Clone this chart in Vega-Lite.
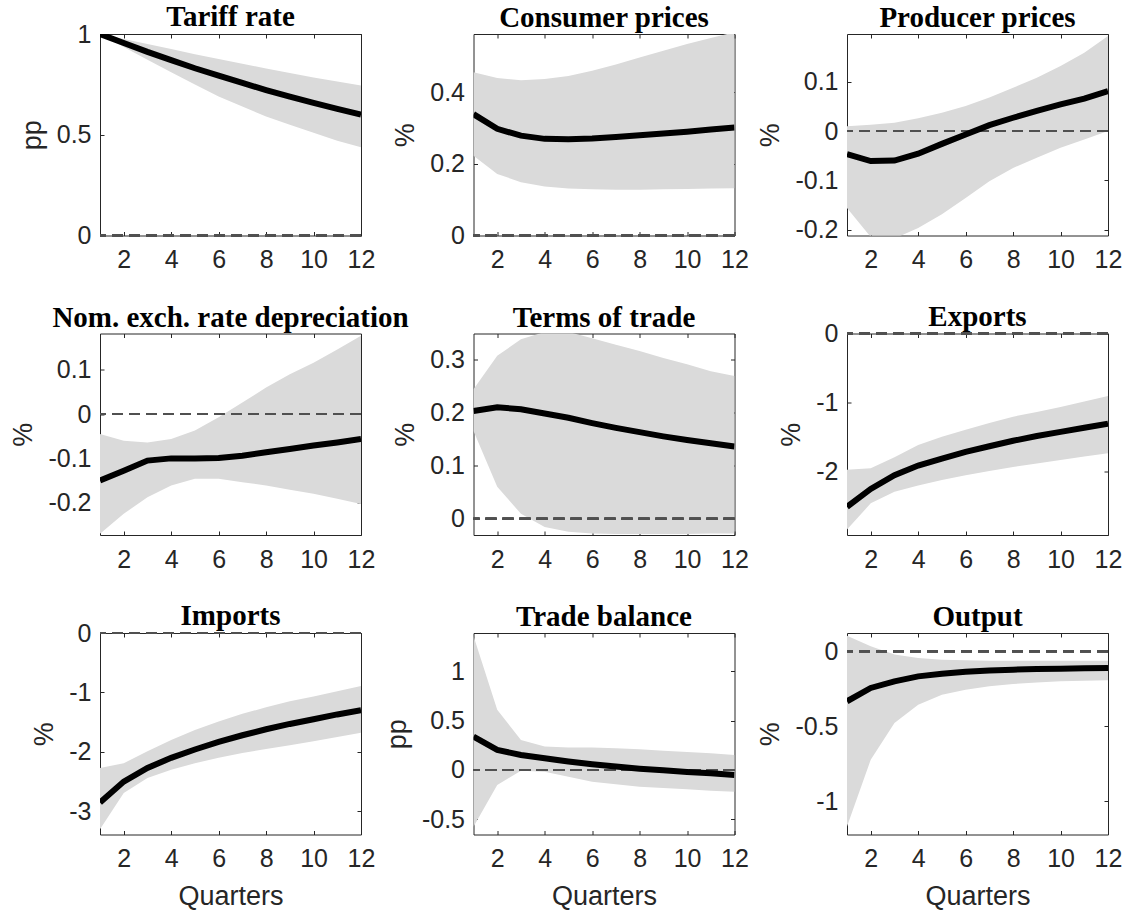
{
  "$schema": "https://vega.github.io/schema/vega-lite/v6.json",
  "background": "white",
  "padding": {"left": 9, "top": 2, "right": 0, "bottom": 0},
  "datasets": {
    "tariff": [
      {"q": 1, "mid": 1.0, "lo": 1.0, "hi": 1.0},
      {"q": 2, "mid": 0.955, "lo": 0.935, "hi": 0.975},
      {"q": 3, "mid": 0.911, "lo": 0.872, "hi": 0.95},
      {"q": 4, "mid": 0.87, "lo": 0.81, "hi": 0.925},
      {"q": 5, "mid": 0.83, "lo": 0.75, "hi": 0.9},
      {"q": 6, "mid": 0.793, "lo": 0.69, "hi": 0.876},
      {"q": 7, "mid": 0.757, "lo": 0.64, "hi": 0.852},
      {"q": 8, "mid": 0.722, "lo": 0.59, "hi": 0.829},
      {"q": 9, "mid": 0.689, "lo": 0.55, "hi": 0.806},
      {"q": 10, "mid": 0.658, "lo": 0.51, "hi": 0.784},
      {"q": 11, "mid": 0.628, "lo": 0.47, "hi": 0.764},
      {"q": 12, "mid": 0.6, "lo": 0.438, "hi": 0.745}
    ],
    "cpi": [
      {"q": 1, "mid": 0.339, "lo": 0.223, "hi": 0.456},
      {"q": 2, "mid": 0.298, "lo": 0.172, "hi": 0.44},
      {"q": 3, "mid": 0.279, "lo": 0.149, "hi": 0.434},
      {"q": 4, "mid": 0.27, "lo": 0.137, "hi": 0.437},
      {"q": 5, "mid": 0.269, "lo": 0.131, "hi": 0.446},
      {"q": 6, "mid": 0.271, "lo": 0.129, "hi": 0.46},
      {"q": 7, "mid": 0.275, "lo": 0.128, "hi": 0.478},
      {"q": 8, "mid": 0.28, "lo": 0.128, "hi": 0.497},
      {"q": 9, "mid": 0.285, "lo": 0.129, "hi": 0.516},
      {"q": 10, "mid": 0.29, "lo": 0.13, "hi": 0.535},
      {"q": 11, "mid": 0.296, "lo": 0.131, "hi": 0.552},
      {"q": 12, "mid": 0.302, "lo": 0.132, "hi": 0.568}
    ],
    "ppi": [
      {"q": 1, "mid": -0.047, "lo": -0.156, "hi": 0.01},
      {"q": 2, "mid": -0.061, "lo": -0.215, "hi": 0.013},
      {"q": 3, "mid": -0.06, "lo": -0.218, "hi": 0.017},
      {"q": 4, "mid": -0.046, "lo": -0.197, "hi": 0.026},
      {"q": 5, "mid": -0.026, "lo": -0.169, "hi": 0.037},
      {"q": 6, "mid": -0.007, "lo": -0.136, "hi": 0.051},
      {"q": 7, "mid": 0.012, "lo": -0.102, "hi": 0.068},
      {"q": 8, "mid": 0.027, "lo": -0.075, "hi": 0.088},
      {"q": 9, "mid": 0.041, "lo": -0.054, "hi": 0.108},
      {"q": 10, "mid": 0.054, "lo": -0.034, "hi": 0.132},
      {"q": 11, "mid": 0.066, "lo": -0.017, "hi": 0.159},
      {"q": 12, "mid": 0.081, "lo": 0.0, "hi": 0.193}
    ],
    "ner": [
      {"q": 1, "mid": -0.15, "lo": -0.27, "hi": -0.045},
      {"q": 2, "mid": -0.128, "lo": -0.225, "hi": -0.06},
      {"q": 3, "mid": -0.105, "lo": -0.188, "hi": -0.064},
      {"q": 4, "mid": -0.1, "lo": -0.161, "hi": -0.056},
      {"q": 5, "mid": -0.1, "lo": -0.146, "hi": -0.037},
      {"q": 6, "mid": -0.099, "lo": -0.146, "hi": -0.007},
      {"q": 7, "mid": -0.094, "lo": -0.154, "hi": 0.026},
      {"q": 8, "mid": -0.086, "lo": -0.161, "hi": 0.06},
      {"q": 9, "mid": -0.079, "lo": -0.171, "hi": 0.09},
      {"q": 10, "mid": -0.071, "lo": -0.18, "hi": 0.116},
      {"q": 11, "mid": -0.064, "lo": -0.191, "hi": 0.146},
      {"q": 12, "mid": -0.056, "lo": -0.203, "hi": 0.177}
    ],
    "tot": [
      {"q": 1, "mid": 0.203, "lo": 0.165, "hi": 0.244},
      {"q": 2, "mid": 0.21, "lo": 0.06, "hi": 0.307},
      {"q": 3, "mid": 0.206, "lo": 0.009, "hi": 0.338},
      {"q": 4, "mid": 0.198, "lo": -0.016, "hi": 0.352},
      {"q": 5, "mid": 0.19, "lo": -0.025, "hi": 0.352},
      {"q": 6, "mid": 0.18, "lo": -0.028, "hi": 0.34},
      {"q": 7, "mid": 0.171, "lo": -0.029, "hi": 0.328},
      {"q": 8, "mid": 0.163, "lo": -0.029, "hi": 0.316},
      {"q": 9, "mid": 0.155, "lo": -0.029, "hi": 0.303},
      {"q": 10, "mid": 0.148, "lo": -0.029, "hi": 0.291},
      {"q": 11, "mid": 0.142, "lo": -0.028, "hi": 0.278},
      {"q": 12, "mid": 0.136, "lo": -0.028, "hi": 0.269}
    ],
    "exp": [
      {"q": 1, "mid": -2.52, "lo": -2.85, "hi": -1.98},
      {"q": 2, "mid": -2.26, "lo": -2.47, "hi": -1.96},
      {"q": 3, "mid": -2.06, "lo": -2.3, "hi": -1.8},
      {"q": 4, "mid": -1.92, "lo": -2.21, "hi": -1.62},
      {"q": 5, "mid": -1.82, "lo": -2.13, "hi": -1.5},
      {"q": 6, "mid": -1.72, "lo": -2.06, "hi": -1.4},
      {"q": 7, "mid": -1.64, "lo": -2.0, "hi": -1.3},
      {"q": 8, "mid": -1.56, "lo": -1.94, "hi": -1.21},
      {"q": 9, "mid": -1.49, "lo": -1.89, "hi": -1.14},
      {"q": 10, "mid": -1.43, "lo": -1.84, "hi": -1.07},
      {"q": 11, "mid": -1.37, "lo": -1.79, "hi": -0.99},
      {"q": 12, "mid": -1.31, "lo": -1.74, "hi": -0.91}
    ],
    "imp": [
      {"q": 1, "mid": -2.85, "lo": -3.3, "hi": -2.27},
      {"q": 2, "mid": -2.5, "lo": -2.69, "hi": -2.19},
      {"q": 3, "mid": -2.27, "lo": -2.44, "hi": -1.99},
      {"q": 4, "mid": -2.1, "lo": -2.3, "hi": -1.8},
      {"q": 5, "mid": -1.96, "lo": -2.19, "hi": -1.63},
      {"q": 6, "mid": -1.83, "lo": -2.1, "hi": -1.49},
      {"q": 7, "mid": -1.72, "lo": -2.02, "hi": -1.36},
      {"q": 8, "mid": -1.62, "lo": -1.95, "hi": -1.25},
      {"q": 9, "mid": -1.53, "lo": -1.89, "hi": -1.15},
      {"q": 10, "mid": -1.45, "lo": -1.82, "hi": -1.07},
      {"q": 11, "mid": -1.37, "lo": -1.75, "hi": -0.98},
      {"q": 12, "mid": -1.3, "lo": -1.68, "hi": -0.89}
    ],
    "tb": [
      {"q": 1, "mid": 0.338, "lo": -0.576, "hi": 1.36},
      {"q": 2, "mid": 0.203, "lo": -0.152, "hi": 0.61},
      {"q": 3, "mid": 0.152, "lo": -0.007, "hi": 0.305},
      {"q": 4, "mid": 0.118, "lo": -0.017, "hi": 0.237},
      {"q": 5, "mid": 0.085, "lo": -0.068, "hi": 0.227},
      {"q": 6, "mid": 0.057, "lo": -0.119, "hi": 0.227},
      {"q": 7, "mid": 0.034, "lo": -0.146, "hi": 0.22},
      {"q": 8, "mid": 0.013, "lo": -0.17, "hi": 0.21},
      {"q": 9, "mid": -0.004, "lo": -0.183, "hi": 0.196},
      {"q": 10, "mid": -0.02, "lo": -0.196, "hi": 0.183},
      {"q": 11, "mid": -0.034, "lo": -0.21, "hi": 0.17},
      {"q": 12, "mid": -0.051, "lo": -0.22, "hi": 0.152}
    ],
    "out": [
      {"q": 1, "mid": -0.333, "lo": -1.167, "hi": 0.104},
      {"q": 2, "mid": -0.244, "lo": -0.722, "hi": 0.033},
      {"q": 3, "mid": -0.2, "lo": -0.478, "hi": -0.022},
      {"q": 4, "mid": -0.167, "lo": -0.356, "hi": -0.044},
      {"q": 5, "mid": -0.149, "lo": -0.289, "hi": -0.056},
      {"q": 6, "mid": -0.136, "lo": -0.256, "hi": -0.06},
      {"q": 7, "mid": -0.127, "lo": -0.233, "hi": -0.062},
      {"q": 8, "mid": -0.122, "lo": -0.218, "hi": -0.062},
      {"q": 9, "mid": -0.118, "lo": -0.207, "hi": -0.062},
      {"q": 10, "mid": -0.116, "lo": -0.2, "hi": -0.062},
      {"q": 11, "mid": -0.113, "lo": -0.196, "hi": -0.062},
      {"q": 12, "mid": -0.111, "lo": -0.193, "hi": -0.062}
    ]
  },
  "columns": 3,
  "bounds": "flush",
  "spacing": {"row": 97.5, "column": 112.5},
  "concat": [
    {
      "title": {"text": "Tariff rate", "offset": -10}, "width": 261, "height": 201.5, "data": {"name": "tariff"},
      "layer": [
        {"mark": {"type": "area", "color": "#dadada", "clip": true},
         "encoding": {
           "x": {"field": "q", "type": "quantitative", "scale": {"domain": [1, 12], "nice": false, "zero": false}, "axis": {"values": [2, 4, 6, 8, 10, 12], "format": "~g", "title": null}},
           "y": {"field": "lo", "type": "quantitative", "scale": {"domain": [0, 1], "nice": false, "zero": false}, "axis": {"values": [0, 0.5, 1], "format": "~g", "title": "pp"}},
           "y2": {"field": "hi"}}},
        {"mark": {"type": "rule", "color": "#505050", "strokeDash": [11, 6], "strokeWidth": 1.8},
         "encoding": {"y": {"datum": 0, "type": "quantitative", "axis": null}}},
        {"mark": {"type": "line", "color": "black", "strokeWidth": 6, "clip": true},
         "encoding": {
           "x": {"field": "q", "type": "quantitative", "axis": {"orient": "top", "values": [2, 4, 6, 8, 10, 12], "labels": false, "title": null}},
           "y": {"field": "mid", "type": "quantitative", "axis": {"orient": "right", "values": [0, 0.5, 1], "labels": false, "title": null}}}}
      ],
      "resolve": {"axis": {"x": "independent", "y": "independent"}}
    },
    {
      "title": {"text": "Consumer prices", "offset": 0.5}, "width": 261, "height": 201.5, "data": {"name": "cpi"},
      "layer": [
        {"mark": {"type": "area", "color": "#dadada", "clip": true},
         "encoding": {
           "x": {"field": "q", "type": "quantitative", "scale": {"domain": [1, 12], "nice": false, "zero": false}, "axis": {"values": [2, 4, 6, 8, 10, 12], "format": "~g", "title": null}},
           "y": {"field": "lo", "type": "quantitative", "scale": {"domain": [0, 0.563], "nice": false, "zero": false}, "axis": {"values": [0, 0.2, 0.4], "format": "~g", "title": "%"}},
           "y2": {"field": "hi"}}},
        {"mark": {"type": "rule", "color": "#505050", "strokeDash": [11, 6], "strokeWidth": 1.8},
         "encoding": {"y": {"datum": 0, "type": "quantitative", "axis": null}}},
        {"mark": {"type": "line", "color": "black", "strokeWidth": 6, "clip": true},
         "encoding": {
           "x": {"field": "q", "type": "quantitative", "axis": {"orient": "top", "values": [2, 4, 6, 8, 10, 12], "labels": false, "title": null}},
           "y": {"field": "mid", "type": "quantitative", "axis": {"orient": "right", "values": [0, 0.2, 0.4], "labels": false, "title": null}}}}
      ],
      "resolve": {"axis": {"x": "independent", "y": "independent"}}
    },
    {
      "title": {"text": "Producer prices", "offset": 0.5}, "width": 261, "height": 201.5, "data": {"name": "ppi"},
      "layer": [
        {"mark": {"type": "area", "color": "#dadada", "clip": true},
         "encoding": {
           "x": {"field": "q", "type": "quantitative", "scale": {"domain": [1, 12], "nice": false, "zero": false}, "axis": {"values": [2, 4, 6, 8, 10, 12], "format": "~g", "title": null}},
           "y": {"field": "lo", "type": "quantitative", "scale": {"domain": [-0.212, 0.197], "nice": false, "zero": false}, "axis": {"values": [-0.2, -0.1, 0, 0.1], "format": "~g", "title": "%"}},
           "y2": {"field": "hi"}}},
        {"mark": {"type": "rule", "color": "#505050", "strokeDash": [11, 6], "strokeWidth": 1.8},
         "encoding": {"y": {"datum": 0, "type": "quantitative", "axis": null}}},
        {"mark": {"type": "line", "color": "black", "strokeWidth": 6, "clip": true},
         "encoding": {
           "x": {"field": "q", "type": "quantitative", "axis": {"orient": "top", "values": [2, 4, 6, 8, 10, 12], "labels": false, "title": null}},
           "y": {"field": "mid", "type": "quantitative", "axis": {"orient": "right", "values": [-0.2, -0.1, 0, 0.1], "labels": false, "title": null}}}}
      ],
      "resolve": {"axis": {"x": "independent", "y": "independent"}}
    },
    {
      "title": {"text": "Nom. exch. rate depreciation", "offset": 0.5}, "width": 261, "height": 201.5, "data": {"name": "ner"},
      "layer": [
        {"mark": {"type": "area", "color": "#dadada", "clip": true},
         "encoding": {
           "x": {"field": "q", "type": "quantitative", "scale": {"domain": [1, 12], "nice": false, "zero": false}, "axis": {"values": [2, 4, 6, 8, 10, 12], "format": "~g", "title": null}},
           "y": {"field": "lo", "type": "quantitative", "scale": {"domain": [-0.273, 0.182], "nice": false, "zero": false}, "axis": {"values": [-0.2, -0.1, 0, 0.1], "format": "~g", "title": "%"}},
           "y2": {"field": "hi"}}},
        {"mark": {"type": "rule", "color": "#505050", "strokeDash": [11, 6], "strokeWidth": 1.8},
         "encoding": {"y": {"datum": 0, "type": "quantitative", "axis": null}}},
        {"mark": {"type": "line", "color": "black", "strokeWidth": 6, "clip": true},
         "encoding": {
           "x": {"field": "q", "type": "quantitative", "axis": {"orient": "top", "values": [2, 4, 6, 8, 10, 12], "labels": false, "title": null}},
           "y": {"field": "mid", "type": "quantitative", "axis": {"orient": "right", "values": [-0.2, -0.1, 0, 0.1], "labels": false, "title": null}}}}
      ],
      "resolve": {"axis": {"x": "independent", "y": "independent"}}
    },
    {
      "title": {"text": "Terms of trade", "offset": 0.5}, "width": 261, "height": 201.5, "data": {"name": "tot"},
      "layer": [
        {"mark": {"type": "area", "color": "#dadada", "clip": true},
         "encoding": {
           "x": {"field": "q", "type": "quantitative", "scale": {"domain": [1, 12], "nice": false, "zero": false}, "axis": {"values": [2, 4, 6, 8, 10, 12], "format": "~g", "title": null}},
           "y": {"field": "lo", "type": "quantitative", "scale": {"domain": [-0.031, 0.349], "nice": false, "zero": false}, "axis": {"values": [0, 0.1, 0.2, 0.3], "format": "~g", "title": "%"}},
           "y2": {"field": "hi"}}},
        {"mark": {"type": "rule", "color": "#505050", "strokeDash": [11, 6], "strokeWidth": 1.8},
         "encoding": {"y": {"datum": 0, "type": "quantitative", "axis": null}}},
        {"mark": {"type": "line", "color": "black", "strokeWidth": 6, "clip": true},
         "encoding": {
           "x": {"field": "q", "type": "quantitative", "axis": {"orient": "top", "values": [2, 4, 6, 8, 10, 12], "labels": false, "title": null}},
           "y": {"field": "mid", "type": "quantitative", "axis": {"orient": "right", "values": [0, 0.1, 0.2, 0.3], "labels": false, "title": null}}}}
      ],
      "resolve": {"axis": {"x": "independent", "y": "independent"}}
    },
    {
      "title": {"text": "Exports", "offset": -10}, "width": 261, "height": 201.5, "data": {"name": "exp"},
      "layer": [
        {"mark": {"type": "area", "color": "#dadada", "clip": true},
         "encoding": {
           "x": {"field": "q", "type": "quantitative", "scale": {"domain": [1, 12], "nice": false, "zero": false}, "axis": {"values": [2, 4, 6, 8, 10, 12], "format": "~g", "title": null}},
           "y": {"field": "lo", "type": "quantitative", "scale": {"domain": [-2.93, 0], "nice": false, "zero": false}, "axis": {"values": [-2, -1, 0], "format": "~g", "title": "%"}},
           "y2": {"field": "hi"}}},
        {"mark": {"type": "rule", "color": "#505050", "strokeDash": [11, 6], "strokeWidth": 1.8},
         "encoding": {"y": {"datum": 0, "type": "quantitative", "axis": null}}},
        {"mark": {"type": "line", "color": "black", "strokeWidth": 6, "clip": true},
         "encoding": {
           "x": {"field": "q", "type": "quantitative", "axis": {"orient": "top", "values": [2, 4, 6, 8, 10, 12], "labels": false, "title": null}},
           "y": {"field": "mid", "type": "quantitative", "axis": {"orient": "right", "values": [-2, -1, 0], "labels": false, "title": null}}}}
      ],
      "resolve": {"axis": {"x": "independent", "y": "independent"}}
    },
    {
      "title": {"text": "Imports", "offset": -10}, "width": 261, "height": 201.5, "data": {"name": "imp"},
      "layer": [
        {"mark": {"type": "area", "color": "#dadada", "clip": true},
         "encoding": {
           "x": {"field": "q", "type": "quantitative", "scale": {"domain": [1, 12], "nice": false, "zero": false}, "axis": {"values": [2, 4, 6, 8, 10, 12], "format": "~g", "title": "Quarters"}},
           "y": {"field": "lo", "type": "quantitative", "scale": {"domain": [-3.39, 0], "nice": false, "zero": false}, "axis": {"values": [-3, -2, -1, 0], "format": "~g", "title": "%"}},
           "y2": {"field": "hi"}}},
        {"mark": {"type": "rule", "color": "#505050", "strokeDash": [11, 6], "strokeWidth": 1.8},
         "encoding": {"y": {"datum": 0, "type": "quantitative", "axis": null}}},
        {"mark": {"type": "line", "color": "black", "strokeWidth": 6, "clip": true},
         "encoding": {
           "x": {"field": "q", "type": "quantitative", "axis": {"orient": "top", "values": [2, 4, 6, 8, 10, 12], "labels": false, "title": null}},
           "y": {"field": "mid", "type": "quantitative", "axis": {"orient": "right", "values": [-3, -2, -1, 0], "labels": false, "title": null}}}}
      ],
      "resolve": {"axis": {"x": "independent", "y": "independent"}}
    },
    {
      "title": {"text": "Trade balance", "offset": 0.5}, "width": 261, "height": 201.5, "data": {"name": "tb"},
      "layer": [
        {"mark": {"type": "area", "color": "#dadada", "clip": true},
         "encoding": {
           "x": {"field": "q", "type": "quantitative", "scale": {"domain": [1, 12], "nice": false, "zero": false}, "axis": {"values": [2, 4, 6, 8, 10, 12], "format": "~g", "title": "Quarters"}},
           "y": {"field": "lo", "type": "quantitative", "scale": {"domain": [-0.655, 1.39], "nice": false, "zero": false}, "axis": {"values": [-0.5, 0, 0.5, 1], "format": "~g", "title": "pp"}},
           "y2": {"field": "hi"}}},
        {"mark": {"type": "rule", "color": "#505050", "strokeDash": [11, 6], "strokeWidth": 1.8},
         "encoding": {"y": {"datum": 0, "type": "quantitative", "axis": null}}},
        {"mark": {"type": "line", "color": "black", "strokeWidth": 6, "clip": true},
         "encoding": {
           "x": {"field": "q", "type": "quantitative", "axis": {"orient": "top", "values": [2, 4, 6, 8, 10, 12], "labels": false, "title": null}},
           "y": {"field": "mid", "type": "quantitative", "axis": {"orient": "right", "values": [-0.5, 0, 0.5, 1], "labels": false, "title": null}}}}
      ],
      "resolve": {"axis": {"x": "independent", "y": "independent"}}
    },
    {
      "title": {"text": "Output", "offset": 0.5}, "width": 261, "height": 201.5, "data": {"name": "out"},
      "layer": [
        {"mark": {"type": "area", "color": "#dadada", "clip": true},
         "encoding": {
           "x": {"field": "q", "type": "quantitative", "scale": {"domain": [1, 12], "nice": false, "zero": false}, "axis": {"values": [2, 4, 6, 8, 10, 12], "format": "~g", "title": "Quarters"}},
           "y": {"field": "lo", "type": "quantitative", "scale": {"domain": [-1.22, 0.122], "nice": false, "zero": false}, "axis": {"values": [-1, -0.5, 0], "format": "~g", "title": "%"}},
           "y2": {"field": "hi"}}},
        {"mark": {"type": "rule", "color": "#505050", "strokeDash": [11, 6], "strokeWidth": 1.8},
         "encoding": {"y": {"datum": 0, "type": "quantitative", "axis": null}}},
        {"mark": {"type": "line", "color": "black", "strokeWidth": 6, "clip": true},
         "encoding": {
           "x": {"field": "q", "type": "quantitative", "axis": {"orient": "top", "values": [2, 4, 6, 8, 10, 12], "labels": false, "title": null}},
           "y": {"field": "mid", "type": "quantitative", "axis": {"orient": "right", "values": [-1, -0.5, 0], "labels": false, "title": null}}}}
      ],
      "resolve": {"axis": {"x": "independent", "y": "independent"}}
    }
  ],
  "config": {
    "view": {"stroke": "#262626", "strokeWidth": 1},
    "axis": {
      "labelFont": "Liberation Sans", "labelFontSize": 25, "labelColor": "#262626",
      "labelExpr": "replace(datum.label, '−', '-')",
      "titleFont": "Liberation Sans", "titleFontSize": 27, "titleFontWeight": "normal", "titleColor": "#262626",
      "tickColor": "#262626", "tickSize": -4, "tickWidth": 1, "domain": false, "grid": false,
      "labelFlush": false, "labelOverlap": false, "labelBound": false
    },
    "axisX": {"labelPadding": 16, "titlePadding": 12},
    "axisY": {"labelPadding": 13, "titlePadding": 10},
    "title": {"font": "Liberation Serif", "fontSize": 29, "fontWeight": "bold", "color": "black", "baseline": "alphabetic"}
  }
}
